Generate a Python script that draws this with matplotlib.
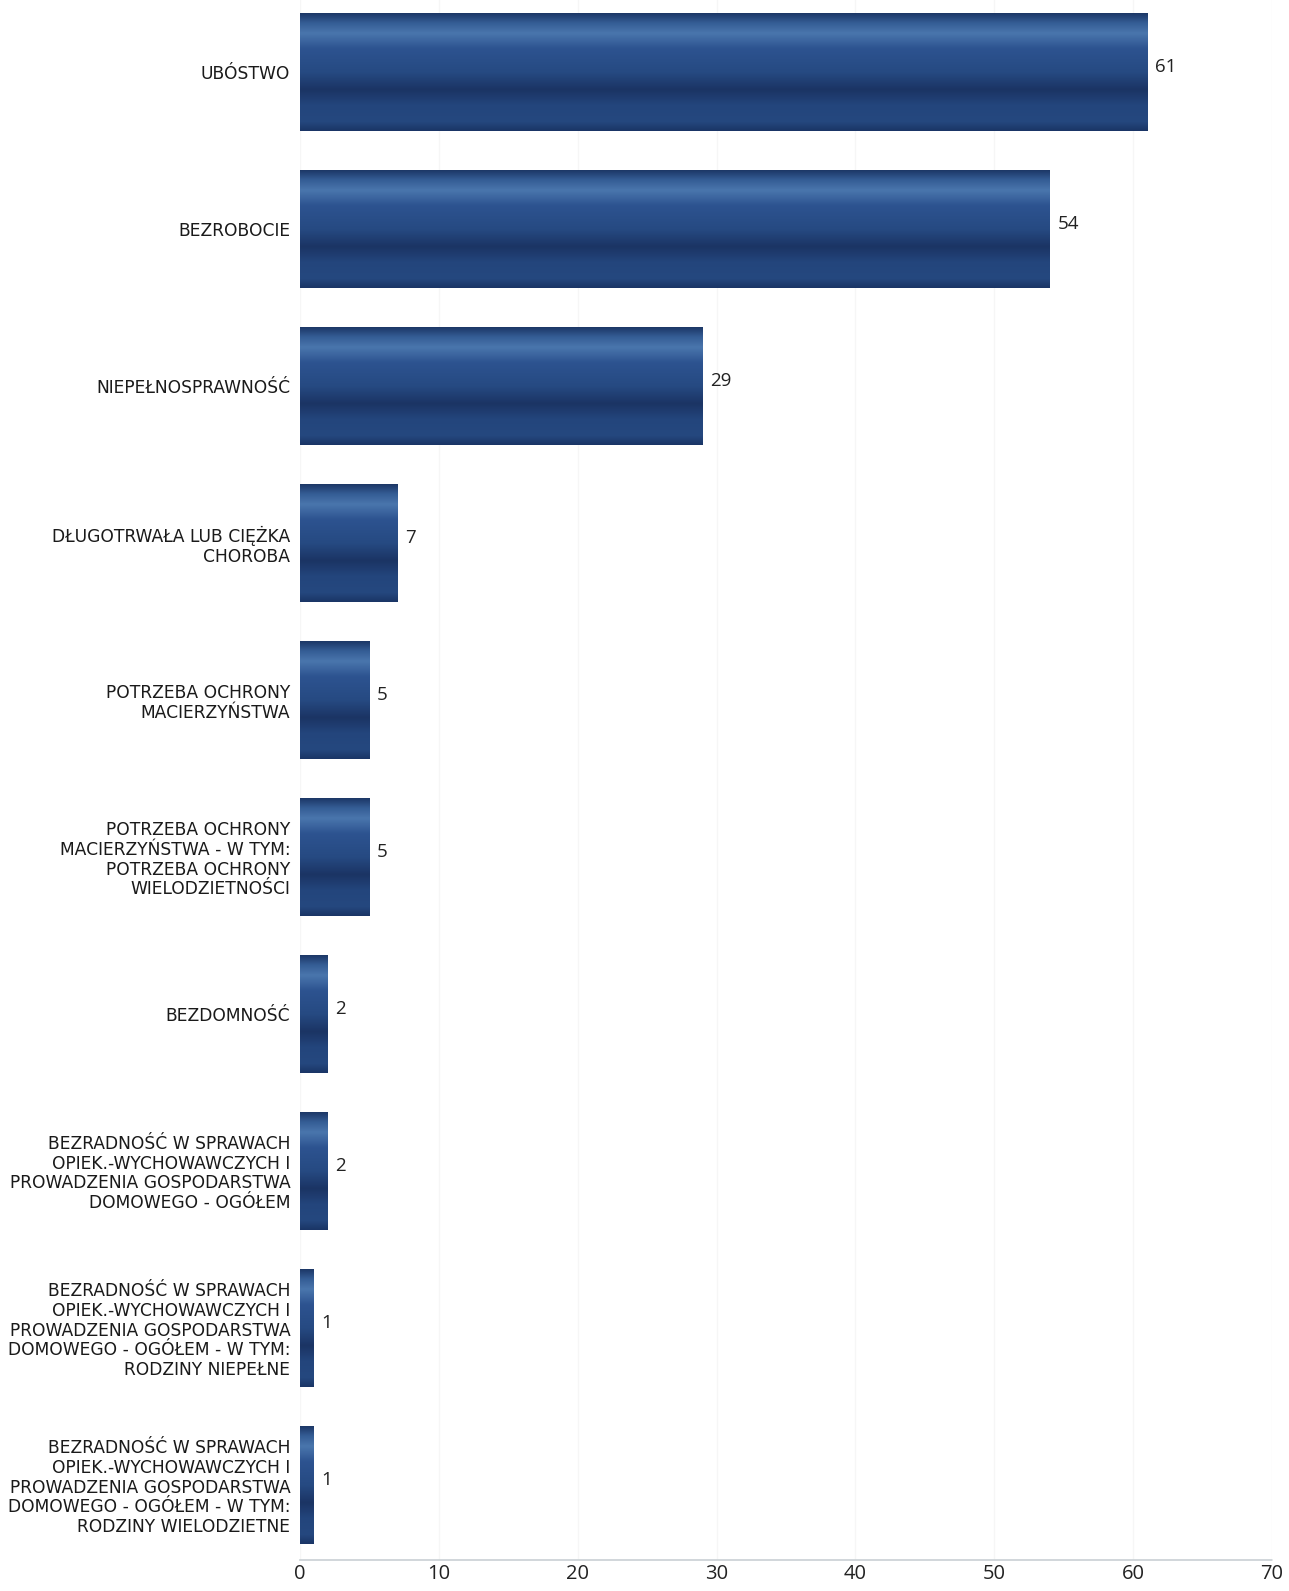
import numpy as np
import matplotlib
matplotlib.use("Agg")
import matplotlib.pyplot as plt
from matplotlib.colors import LinearSegmentedColormap

categories = [
    "UBÓSTWO",
    "BEZROBOCIE",
    "NIEPEŁNOSPRAWNOŚĆ",
    "DŁUGOTRWAŁA LUB CIĘŻKA\nCHOROBA",
    "POTRZEBA OCHRONY\nMACIERZYŃSTWA",
    "POTRZEBA OCHRONY\nMACIERZYŃSTWA - W TYM:\nPOTRZEBA OCHRONY\nWIELODZIETNOŚCI",
    "BEZDOMNOŚĆ",
    "BEZRADNOŚĆ W SPRAWACH\nOPIEK.-WYCHOWAWCZYCH I\nPROWADZENIA GOSPODARSTWA\nDOMOWEGO - OGÓŁEM",
    "BEZRADNOŚĆ W SPRAWACH\nOPIEK.-WYCHOWAWCZYCH I\nPROWADZENIA GOSPODARSTWA\nDOMOWEGO - OGÓŁEM - W TYM:\nRODZINY NIEPEŁNE",
    "BEZRADNOŚĆ W SPRAWACH\nOPIEK.-WYCHOWAWCZYCH I\nPROWADZENIA GOSPODARSTWA\nDOMOWEGO - OGÓŁEM - W TYM:\nRODZINY WIELODZIETNE",
]
values = [61, 54, 29, 7, 5, 5, 2, 2, 1, 1]
xticks = [0, 10, 20, 30, 40, 50, 60, 70]

W, H = 1289, 1591
fig = plt.figure(figsize=(W / 100, H / 100), dpi=100)
ax = fig.add_axes([300 / W, 1 - 1560 / H, (1272 - 300) / W, 1560 / H])

ypos = np.arange(len(values))
bar_h = 0.75
bars = ax.barh(ypos, values, height=bar_h, color="#24467e", edgecolor="none", zorder=2)

# vertical shading profile (top -> bottom) emulating the shaded bars
grad_cmap = LinearSegmentedColormap.from_list(
    "barshade",
    [(0.0, "#1c3766"), (0.08, "#345c94"), (0.17, "#4a76ad"), (0.3, "#2d5390"),
     (0.5, "#264a82"), (0.65, "#1b3464"), (0.78, "#23457c"), (0.92, "#25487f"),
     (1.0, "#1a3565")])
grad = np.linspace(0, 1, 256).reshape(-1, 1)
for b in bars:
    x0, y0 = b.get_x(), b.get_y()
    w, h = b.get_width(), b.get_height()
    im = ax.imshow(grad, cmap=grad_cmap, aspect="auto",
                   extent=[x0, x0 + w, y0 + h, y0], zorder=3, interpolation="bicubic")
    im.set_clip_path(b)

for y, v in zip(ypos, values):
    ax.text(v + 0.55, y - 0.03, str(v), va="center", ha="left",
            fontsize=13.5, color="#222222", family="Open Sans")

ax.set_xlim(0, 70)
ax.set_ylim(9.48, -0.46)
ax.set_yticks(ypos)
ax.set_yticklabels(categories, fontsize=12.3, color="#1a1a1a", family="DejaVu Sans",
                   linespacing=1.12)
ax.tick_params(axis="y", length=0, pad=7)
ax.set_xticks(xticks)
ax.set_xticklabels([str(t) for t in xticks], fontsize=14.5, color="#222222",
                   family="Open Sans")
ax.tick_params(axis="x", length=0, pad=3)

for s in ["top", "right", "left"]:
    ax.spines[s].set_visible(False)
ax.spines["bottom"].set_color("#c9d0d4")
ax.spines["bottom"].set_linestyle((0, (1, 1)))
ax.spines["bottom"].set_linewidth(1.2)

ax.grid(axis="x", color="#f6f6f6", linewidth=1, zorder=0)
ax.set_axisbelow(True)

fig.savefig("out.png", dpi=100)
